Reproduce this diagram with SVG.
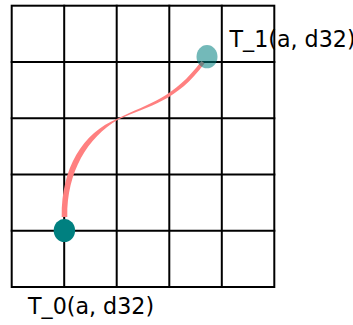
<svg xmlns="http://www.w3.org/2000/svg" width="353" height="325" viewBox="0 0 353 325">
<style>
.grid{stroke:#000;stroke-width:2;fill:none;stroke-linecap:square}
.lbl{font-family:"DejaVu Sans",sans-serif;font-size:22.2px;fill:#000}
</style>
<rect width="353" height="325" fill="#fff"/>
<g id="grid" class="grid">
<rect x="11.7" y="5.7" width="262.6" height="281.3"/>
<path d="M64.2 5.7V287M116.7 5.7V287M169.3 5.7V287M221.8 5.7V287M11.7 62H274.3M11.7 118.3H274.3M11.7 174.5H274.3M11.7 230.8H274.3"/>
</g>
<g id="connectors">
<path d="M61.7 217 C61.3 168 82.5 132.5 117.8 118.4 C149.5 103 173.5 98.5 201.4 61 L204.6 63.2 C176.5 101.5 150.5 105 118.2 119.6 C87.5 137.5 66.7 172 67.3 217 Z" fill="#ff8080"/>
</g>
<g id="T_0">
<ellipse cx="64.4" cy="230.5" rx="10.7" ry="11.6" fill="#008080"/>
<text class="lbl" x="28" y="314">T_0(a, d32)</text>
</g>
<g id="T_1">
<ellipse cx="207" cy="56.7" rx="10.5" ry="11.6" fill="#008080" fill-opacity="0.55"/>
<text class="lbl" x="229.5" y="47">T_1(a, d32)</text>
</g>
</svg>
